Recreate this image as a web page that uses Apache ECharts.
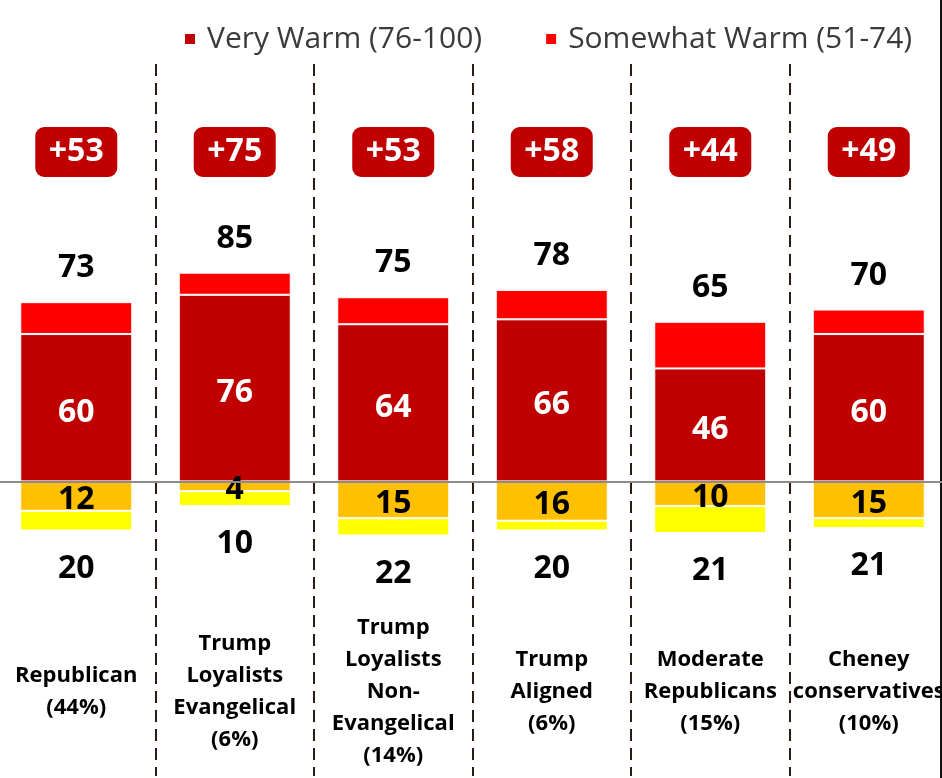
<!DOCTYPE html>
<html>
<head>
<meta charset="utf-8">
<script src="https://cdn.jsdelivr.net/npm/echarts@6/dist/echarts.min.js"></script>
<style>
html,body{margin:0;padding:0;background:#fff;}
#chart{width:942px;height:778px;}
</style>
</head>
<body>
<div id="chart"></div>
<script>
var categories = [
  'Republican\n(44%)',
  'Trump\nLoyalists\nEvangelical\n(6%)',
  'Trump\nLoyalists\nNon-\nEvangelical\n(14%)',
  'Trump\nAligned\n(6%)',
  'Moderate\nRepublicans\n(15%)',
  'Cheney\nconservatives\n(10%)'
];
var veryWarm = [60, 76, 64, 66, 46, 60];
var somewhatWarm = [13, 9, 11, 12, 19, 10];
var somewhatCold = [12, 4, 15, 16, 10, 15];
var veryCold = [8, 6, 7, 4, 11, 4];
var warmTotals = [73, 85, 75, 78, 65, 70];
var coldTotals = [20, 10, 22, 20, 21, 21];
var netLabels = ['+53', '+75', '+53', '+58', '+44', '+49'];

var FONT = '"Open Sans", "DejaVu Sans", sans-serif';
var chart = echarts.init(document.getElementById('chart'), null, {renderer: 'canvas'});

var numStyle = {fontFamily: FONT, fontWeight: 'bold', fontSize: 32};

var option = {
  backgroundColor: '#ffffff',
  animation: false,
  legend: {
    data: ['Very Warm (76-100)', 'Somewhat Warm (51-74)'],
    left: 178,
    top: 19,
    itemWidth: 12,
    itemHeight: 12,
    itemGap: 62,
    icon: 'rect',
    textStyle: {fontFamily: FONT, fontSize: 30, color: '#3a3a3a', padding: [0, 0, 0, 6]}
  },
  grid: {left: -3, right: -6, top: 64, bottom: 2, containLabel: false, outerBoundsMode: 'none'},
  xAxis: [
    {
      type: 'category',
      data: categories,
      position: 'bottom',
      offset: -84,
      axisLine: {show: false},
      axisTick: {show: false},
      axisLabel: {
        margin: 0,
        verticalAlign: 'middle',
        interval: 0,
        fontFamily: FONT,
        fontWeight: 'bold',
        fontSize: 22,
        lineHeight: 32,
        color: '#000'
      },
      splitLine: {
        show: true,
        interval: 0,
        showMinLine: false,
        showMaxLine: false,
        lineStyle: {color: '#2a1c14', width: 2, type: [12, 7]}
      }
    },
    {
      type: 'category',
      data: netLabels,
      position: 'top',
      offset: -88,
      axisLine: {show: false},
      axisTick: {show: false},
      splitLine: {show: false},
      axisLabel: {
        margin: 0,
        interval: 0,
        verticalAlign: 'middle',
        formatter: function (v) { return '{b|' + v + '}'; },
        rich: {
          b: {
            backgroundColor: '#C00000',
            borderRadius: 9,
            color: '#fff',
            fontFamily: FONT,
            fontWeight: 'bold',
            fontSize: 32,
            width: 82,
            height: 50,
            lineHeight: 50,
            align: 'center'
          }
        }
      }
    }
  ],
  yAxis: {
    type: 'value',
    min: -120,
    max: 170,
    show: false,
    splitLine: {show: false}
  },
  series: [
    {
      name: 'Very Warm (76-100)',
      type: 'bar',
      stack: 'all',
      barWidth: 112,
      data: veryWarm,
      itemStyle: {color: '#C00000', borderColor: '#fff', borderWidth: 1},
      label: Object.assign({show: true, position: 'inside', offset: [0, 5], color: '#fff'}, numStyle),
      markLine: {
        silent: true,
        symbol: 'none',
        label: {show: false},
        lineStyle: {color: '#8c8c8c', width: 2, type: 'solid'},
        data: [{yAxis: 0}]
      }
    },
    {
      name: 'Somewhat Warm (51-74)',
      type: 'bar',
      stack: 'all',
      barWidth: 112,
      data: somewhatWarm,
      itemStyle: {color: '#FF0000', borderColor: '#fff', borderWidth: 1},
      label: Object.assign({
        show: true, position: 'top', distance: 18, color: '#000',
        formatter: function (p) { return warmTotals[p.dataIndex]; }
      }, numStyle)
    },
    {
      name: 'Somewhat Cold',
      type: 'bar',
      stack: 'all',
      barWidth: 112,
      data: somewhatCold.map(function (v) { return -v; }),
      itemStyle: {color: '#FFC000', borderColor: '#fff', borderWidth: 1},
      label: Object.assign({
        show: true, position: 'inside', offset: [0, 4], color: '#000',
        formatter: function (p) { return somewhatCold[p.dataIndex]; }
      }, numStyle)
    },
    {
      name: 'Very Cold',
      type: 'bar',
      stack: 'all',
      barWidth: 112,
      data: veryCold.map(function (v) { return -v; }),
      itemStyle: {color: '#FFFF00', borderColor: '#fff', borderWidth: 1},
      label: Object.assign({
        show: true, position: 'bottom', distance: 22, color: '#000',
        formatter: function (p) { return coldTotals[p.dataIndex]; }
      }, numStyle)
    }
  ],
  graphic: [
    {
      type: 'rect',
      right: 0,
      top: 0,
      shape: {width: 2, height: 778},
      style: {fill: '#111'},
      silent: true
    }
  ]
};
chart.setOption(option);
</script>
</body>
</html>
